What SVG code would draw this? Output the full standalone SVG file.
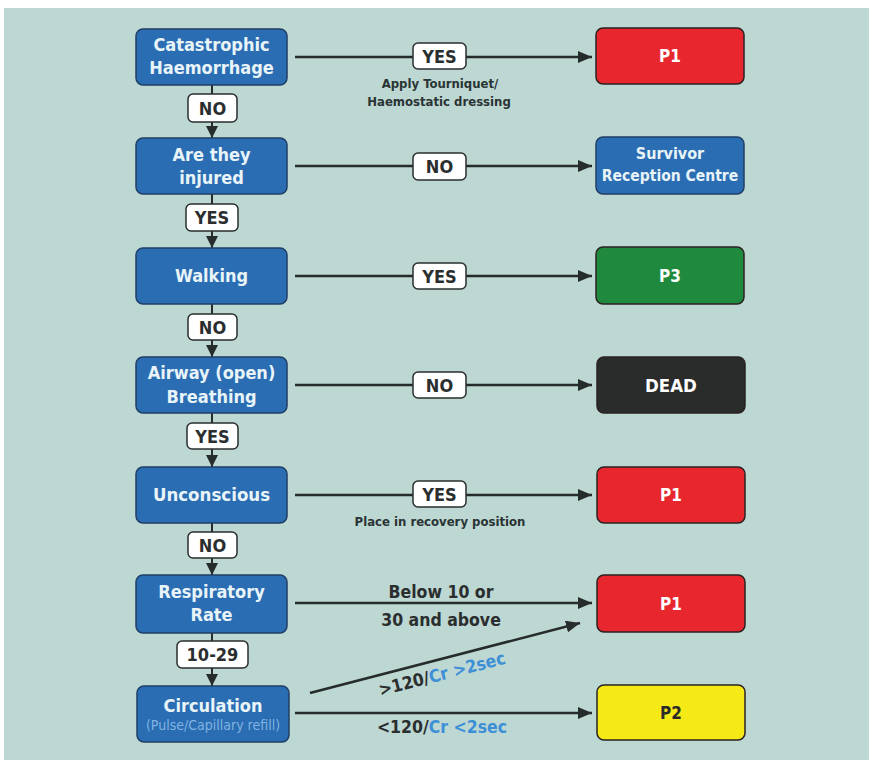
<svg xmlns="http://www.w3.org/2000/svg" width="869" height="760" viewBox="0 0 869 760">
<defs>
<marker id="ah" markerUnits="userSpaceOnUse" markerWidth="14" markerHeight="12" refX="14" refY="6" orient="auto">
<path d="M0,0 L14,6 L0,12 z" fill="#262b2b"/>
</marker>
<marker id="av" markerUnits="userSpaceOnUse" markerWidth="12" markerHeight="12" refX="12" refY="6" orient="auto">
<path d="M0,0 L12,6 L0,12 z" fill="#262b2b"/>
</marker>
<style>
.t{font-family:"DejaVu Sans Condensed","DejaVu Sans",sans-serif;font-stretch:condensed;font-weight:bold;text-anchor:middle}
.q{fill:#2b6db3;stroke:#1f3f66;stroke-width:1.5}
.w{fill:#e8f4f8;font-size:18px}
.lb{fill:#ffffff;stroke:#2a2e2e;stroke-width:1.5}
.lt{fill:#2a2e2e;font-size:18px}
.note{fill:#2a3434;font-size:13px}
.big{fill:#2a2e2e;font-size:17.5px}
.bl{fill:#3d8fd6}
.h{stroke:#262b2b;stroke-width:2.5;fill:none;marker-end:url(#ah)}
.v{stroke:#262b2b;stroke-width:2;fill:none;marker-end:url(#av)}
.r{stroke:#2a2222;stroke-width:1.5}
.pt{fill:#ffffff;font-size:17px}
</style>
</defs>
<rect x="0" y="0" width="869" height="760" fill="#ffffff"/>
<rect x="4" y="8" width="865" height="752" fill="#bdd7d3"/>

<g id="connectors">
<path class="v" d="M212,85 V138"/>
<path class="v" d="M212,194 V248"/>
<path class="v" d="M212,304 V357"/>
<path class="v" d="M212,413 V467"/>
<path class="v" d="M212,523 V575"/>
<path class="v" d="M212,633 V686"/>
<path class="h" d="M295,57 H592"/>
<path class="h" d="M295,166 H592"/>
<path class="h" d="M295,276 H592"/>
<path class="h" d="M295,385 H592"/>
<path class="h" d="M295,495 H592"/>
<path class="h" d="M295,603 H592"/>
<path class="h" d="M310,693 L580,623"/>
<path class="h" d="M295,713 H592"/>
<g id="lbl-no1"><rect class="lb" x="188" y="94" width="49" height="28" rx="5"/><text class="t lt" x="212.5" y="114.5">NO</text></g>
<g id="lbl-yes1"><rect class="lb" x="186" y="204" width="52" height="27" rx="5"/><text class="t lt" x="212" y="224">YES</text></g>
<g id="lbl-no2"><rect class="lb" x="188" y="314" width="49" height="26" rx="5"/><text class="t lt" x="212.5" y="333.5">NO</text></g>
<g id="lbl-yes2"><rect class="lb" x="187" y="423" width="51" height="26" rx="5"/><text class="t lt" x="212.5" y="442.5">YES</text></g>
<g id="lbl-no3"><rect class="lb" x="188" y="532" width="49" height="26" rx="5"/><text class="t lt" x="212.5" y="551.5">NO</text></g>
<g id="lbl-1029"><rect class="lb" x="177" y="641" width="71" height="27" rx="5"/><text class="t lt" x="212.5" y="661">10-29</text></g>
<g id="lbl-h1"><rect class="lb" x="413" y="43" width="53" height="26" rx="5"/><text class="t lt" x="439.5" y="62.5">YES</text></g>
<g id="lbl-h2"><rect class="lb" x="413" y="153" width="53" height="27" rx="5"/><text class="t lt" x="439.5" y="173">NO</text></g>
<g id="lbl-h3"><rect class="lb" x="413" y="263" width="53" height="26" rx="5"/><text class="t lt" x="439.5" y="282.5">YES</text></g>
<g id="lbl-h4"><rect class="lb" x="413" y="372" width="53" height="26" rx="5"/><text class="t lt" x="439.5" y="391.5">NO</text></g>
<g id="lbl-h5"><rect class="lb" x="413" y="481" width="53" height="26" rx="5"/><text class="t lt" x="439.5" y="500.5">YES</text></g>
<text class="t note" x="440" y="88">Apply Tourniquet/</text>
<text class="t note" x="439" y="106">Haemostatic dressing</text>
<text class="t note" x="440" y="526">Place in recovery position</text>
<text class="t big" x="441" y="598">Below 10 or</text>
<text class="t big" x="441" y="626">30 and above</text>
<text class="t big" transform="translate(442,674) rotate(-14.5)" x="0" y="6">&gt;120/<tspan class="bl">Cr &gt;2sec</tspan></text>
<text class="t big" x="442" y="733">&lt;120/<tspan class="bl">Cr &lt;2sec</tspan></text>
</g>

<g id="n-haem"><rect class="q" x="136" y="29" width="151" height="56" rx="7"/><text class="t w" x="211.5" y="51">Catastrophic</text><text class="t w" x="211.5" y="74">Haemorrhage</text></g>
<g id="n-injured"><rect class="q" x="136" y="138" width="151" height="56" rx="7"/><text class="t w" x="211.5" y="161">Are they</text><text class="t w" x="211.5" y="184">injured</text></g>
<g id="n-walking"><rect class="q" x="136" y="248" width="151" height="56" rx="7"/><text class="t w" x="211.5" y="282">Walking</text></g>
<g id="n-airway"><rect class="q" x="136" y="357" width="151" height="56" rx="7"/><text class="t w" x="211.5" y="379">Airway (open)</text><text class="t w" x="211.5" y="403">Breathing</text></g>
<g id="n-uncon"><rect class="q" x="136" y="467" width="151" height="56" rx="7"/><text class="t w" x="211.5" y="501" style="font-size:18.5px">Unconscious</text></g>
<g id="n-resp"><rect class="q" x="136" y="575" width="151" height="58" rx="7"/><text class="t w" x="211.5" y="598">Respiratory</text><text class="t w" x="211.5" y="621">Rate</text></g>
<g id="n-circ"><rect class="q" x="137" y="686" width="152" height="56" rx="7"/><text class="t w" x="213" y="712">Circulation</text><text class="t" x="213" y="730" style="font-size:14px;font-weight:normal;fill:#7fb3e0">(Pulse/Capillary refill)</text></g>

<g id="n-p1a"><rect class="r" x="596" y="28" width="148" height="56" rx="7" fill="#e8262d"/><text class="t pt" x="670" y="62">P1</text></g>
<g id="n-src"><rect class="q" x="596" y="137" width="148" height="57" rx="7"/><text class="t w" x="670" y="159" style="font-size:16px">Survivor</text><text class="t w" x="670" y="181" style="font-size:15.5px">Reception Centre</text></g>
<g id="n-p3"><rect class="r" x="596" y="247" width="148" height="57" rx="7" fill="#1f8a3d"/><text class="t pt" x="670" y="282">P3</text></g>
<g id="n-dead"><rect class="r" x="597" y="357" width="148" height="56" rx="7" fill="#2a2b2b" stroke="#1a1a1a"/><text class="t pt" x="671" y="392" style="font-size:18.5px">DEAD</text></g>
<g id="n-p1b"><rect class="r" x="597" y="467" width="148" height="56" rx="7" fill="#e8262d"/><text class="t pt" x="671" y="501">P1</text></g>
<g id="n-p1c"><rect class="r" x="597" y="575" width="148" height="57" rx="7" fill="#e8262d"/><text class="t pt" x="671" y="610">P1</text></g>
<g id="n-p2"><rect class="r" x="597" y="685" width="148" height="55" rx="7" fill="#f6ea16"/><text class="t pt" x="671" y="719" style="fill:#2a2a2a">P2</text></g>
</svg>
